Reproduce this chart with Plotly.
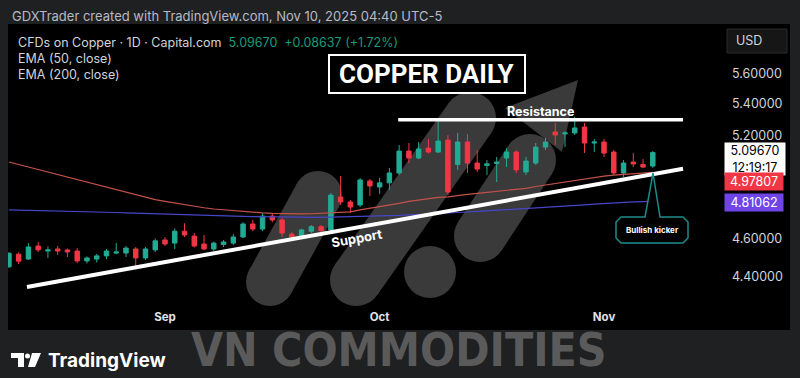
import numpy as np
import pandas as pd
import plotly.graph_objects as go

# ---------------- data ----------------
dates = [d.strftime("%Y-%m-%d") for d in pd.bdate_range("2025-08-08", "2025-11-10")]

opens = [4.451, 4.518, 4.492, 4.562, 4.535, 4.546, 4.541, 4.535, 4.482, 4.492,
         4.509, 4.524, 4.524, 4.546, 4.498, 4.541, 4.595, 4.578, 4.643, 4.616,
         4.573, 4.546, 4.570, 4.578, 4.611, 4.683, 4.655, 4.727, 4.705, 4.627,
         4.611, 4.643, 4.668, 4.650, 4.835, 4.807, 4.790, 4.928, 4.893, 4.917,
         4.975, 5.106, 5.064, 5.124, 5.100, 5.173, 5.026, 5.161, 5.034, 5.020,
         5.031, 5.064, 5.100, 4.981, 5.034, 5.130, 5.223, 5.211, 5.217, 5.254,
         5.155, 5.161, 5.100, 4.975, 5.040, 5.025, 5.016]
highs = [4.528, 4.528, 4.578, 4.584, 4.560, 4.562, 4.549, 4.551, 4.506, 4.519,
         4.546, 4.578, 4.562, 4.557, 4.557, 4.603, 4.611, 4.659, 4.687, 4.633,
         4.622, 4.586, 4.595, 4.627, 4.693, 4.705, 4.745, 4.739, 4.716, 4.638,
         4.657, 4.677, 4.677, 4.858, 4.957, 4.818, 4.945, 4.940, 4.946, 5.005,
         5.143, 5.155, 5.161, 5.180, 5.286, 5.204, 5.217, 5.211, 5.112, 5.052,
         5.070, 5.124, 5.112, 5.070, 5.155, 5.186, 5.279, 5.226, 5.318, 5.279,
         5.180, 5.180, 5.112, 5.052, 5.094, 5.058, 5.106]
lows = [4.446, 4.465, 4.487, 4.530, 4.498, 4.514, 4.503, 4.471, 4.469, 4.474,
        4.492, 4.519, 4.503, 4.455, 4.487, 4.530, 4.562, 4.546, 4.611, 4.554,
        4.541, 4.535, 4.557, 4.567, 4.605, 4.643, 4.643, 4.693, 4.611, 4.598,
        4.605, 4.633, 4.638, 4.641, 4.790, 4.744, 4.778, 4.841, 4.853, 4.876,
        4.963, 5.034, 5.058, 5.091, 5.094, 4.847, 4.993, 4.975, 4.980, 4.964,
        4.922, 5.010, 4.975, 4.963, 5.022, 5.112, 5.143, 5.130, 5.204, 5.094,
        5.100, 5.070, 4.963, 4.952, 5.010, 5.004, 5.005]
closes = [4.523, 4.481, 4.557, 4.541, 4.541, 4.535, 4.530, 4.482, 4.498, 4.509,
          4.535, 4.530, 4.551, 4.498, 4.546, 4.590, 4.573, 4.643, 4.622, 4.562,
          4.546, 4.578, 4.584, 4.611, 4.683, 4.655, 4.727, 4.705, 4.633, 4.611,
          4.650, 4.668, 4.646, 4.846, 4.807, 4.778, 4.934, 4.899, 4.917, 4.975,
          5.106, 5.064, 5.118, 5.100, 5.167, 4.864, 5.161, 5.034, 4.998, 5.029,
          5.040, 5.100, 4.993, 5.046, 5.130, 5.161, 5.204, 5.217, 5.248, 5.155,
          5.161, 5.094, 4.975, 5.034, 5.028, 5.010, 5.0967]

ema50 = [5.040, 5.025, 5.010, 4.995, 4.980, 4.964, 4.950, 4.935, 4.920, 4.906,
         4.891, 4.876, 4.862, 4.848, 4.834, 4.820, 4.810, 4.800, 4.790, 4.781,
         4.774, 4.767, 4.762, 4.756, 4.751, 4.748, 4.745, 4.742, 4.740, 4.739,
         4.739, 4.740, 4.742, 4.745, 4.748, 4.751, 4.762, 4.771, 4.779, 4.787,
         4.799, 4.810, 4.819, 4.826, 4.833, 4.836, 4.845, 4.850, 4.856, 4.862,
         4.867, 4.873, 4.879, 4.885, 4.896, 4.905, 4.914, 4.923, 4.932, 4.940,
         4.949, 4.956, 4.962, 4.967, 4.971, 4.975, 4.978]
ema200 = [4.762, 4.761, 4.760, 4.759, 4.758, 4.756, 4.755, 4.753, 4.752, 4.750,
          4.749, 4.747, 4.745, 4.743, 4.742, 4.740, 4.738, 4.736, 4.735, 4.733,
          4.731, 4.729, 4.728, 4.726, 4.725, 4.724, 4.723, 4.722, 4.721, 4.721,
          4.720, 4.720, 4.720, 4.721, 4.722, 4.723, 4.724, 4.725, 4.727, 4.729,
          4.731, 4.734, 4.736, 4.739, 4.742, 4.745, 4.748, 4.750, 4.753, 4.756,
          4.759, 4.762, 4.766, 4.769, 4.772, 4.776, 4.779, 4.783, 4.786, 4.790,
          4.794, 4.798, 4.802, 4.805, 4.807, 4.809, 4.811]

month_tick_dates = ["2025-09-01", "2025-10-01", "2025-11-03"]
month_labels = ["Sep", "Oct", "Nov"]
price_ticks = [4.4, 4.6, 5.2, 5.4, 5.6]

resistance_level = 5.30
resistance_span = [39.9, 69.1]          # bar positions
support_x = [1.85, 69.1]                # bar positions
support_y = [4.346, 5.0]

last_price = 5.09670
last_change = 0.08637
last_pct = 1.72
ema50_last = 4.97807
ema200_last = 4.81062
countdown = "12:19:17"

# ---------------- geometry helpers ----------------
W, H = 800, 378
PL, PR, PT, PB = 8, 725, 25, 308


def px(x):
    return (x - PL) / (PR - PL)


def py(y):
    return (PB - y) / (PB - PT)


def path_of(points):
    return "M " + " L ".join(f"{px(x):.5f},{py(y):.5f}" for x, y in points) + " Z"


idx = np.arange(len(dates))
tick_pos = [dates.index(d) for d in month_tick_dates]

GREEN = "#22ab94"
RED = "#f23645"
FONT = "Inter, Roboto, sans-serif"

fig = go.Figure()

fig.add_trace(go.Candlestick(
    x=idx, open=opens, high=highs, low=lows, close=closes,
    increasing=dict(line=dict(color=GREEN, width=1), fillcolor=GREEN),
    decreasing=dict(line=dict(color=RED, width=1), fillcolor=RED),
    whiskerwidth=0, showlegend=False, hoverinfo="skip"))

fig.add_trace(go.Scatter(x=idx, y=ema50, mode="lines",
                         line=dict(color="#c4524a", width=1.2), hoverinfo="skip", showlegend=False))
fig.add_trace(go.Scatter(x=idx, y=ema200, mode="lines",
                         line=dict(color="#4646c8", width=1.2), hoverinfo="skip", showlegend=False))

fig.add_trace(go.Scatter(x=resistance_span, y=[resistance_level] * 2, mode="lines",
                         line=dict(color="white", width=3.5), hoverinfo="skip", showlegend=False))
fig.add_trace(go.Scatter(x=support_x, y=support_y, mode="lines",
                         line=dict(color="white", width=4), hoverinfo="skip", showlegend=False))

shapes = []
# black chart panel
shapes.append(dict(type="rect", xref="paper", yref="paper", layer="below",
                   x0=px(8), x1=px(790), y0=py(330), y1=py(24),
                   fillcolor="black", line=dict(width=0)))

# grey logo watermark inside chart
LOGO = "#3a3a3a"


def pill(x0, y0, x1, y1, w):
    dx, dy = x1 - x0, y1 - y0
    n = (dx * dx + dy * dy) ** 0.5
    nx, ny = -dy / n * w / 2, dx / n * w / 2
    pts = [(x0 + nx, y0 + ny), (x1 + nx, y1 + ny), (x1 - nx, y1 - ny), (x0 - nx, y0 - ny)]
    out = [dict(type="path", xref="paper", yref="paper", layer="below",
                path=path_of(pts), fillcolor=LOGO, line=dict(width=0))]
    for cx, cy in [(x0, y0), (x1, y1)]:
        r = w / 2
        out.append(dict(type="circle", xref="paper", yref="paper", layer="below",
                        x0=px(cx - r), x1=px(cx + r), y0=py(cy + r), y1=py(cy - r),
                        fillcolor=LOGO, line=dict(width=0)))
    return out


shapes += pill(270, 282, 318, 195, 48)
shapes += pill(356, 280, 470, 118, 52)
shapes += pill(480, 236, 530, 160, 52)
shapes.append(dict(type="circle", xref="paper", yref="paper", layer="below",
                   x0=px(404), x1=px(456), y0=py(298), y1=py(246),
                   fillcolor=LOGO, line=dict(width=0)))
shapes.append(dict(type="path", xref="paper", yref="paper", layer="below",
                   path=path_of([(505, 108), (578, 80), (562, 152)]),
                   fillcolor=LOGO, line=dict(width=0)))

# title box
shapes.append(dict(type="rect", xref="paper", yref="paper",
                   x0=px(329), x1=px(525), y0=py(93), y1=py(55),
                   fillcolor="black", line=dict(color="white", width=2)))

# bullish kicker callout
callout = [(645, 217), (653, 173), (660, 217), (683, 217), (688, 222), (688, 238),
           (683, 243), (621, 243), (616, 238), (616, 222), (621, 217)]
shapes.append(dict(type="path", xref="paper", yref="paper", path=path_of(callout),
                   fillcolor="black", line=dict(color="#1f8a8a", width=1.5)))

# USD box
shapes.append(dict(type="rect", xref="paper", yref="paper",
                   x0=px(727), x1=px(787), y0=py(53), y1=py(29),
                   fillcolor="#161616", line=dict(color="#2a2a2a", width=1)))

# TradingView logo glyph
shapes.append(dict(type="path", xref="paper", yref="paper",
                   path=path_of([(11, 353), (24, 353), (24, 367), (18, 367), (18, 358), (11, 358)]),
                   fillcolor="white", line=dict(width=0)))
shapes.append(dict(type="circle", xref="paper", yref="paper",
                   x0=px(25), x1=px(30), y0=py(358.5), y1=py(353.5),
                   fillcolor="white", line=dict(width=0)))
shapes.append(dict(type="path", xref="paper", yref="paper",
                   path=path_of([(32, 353), (41, 353), (35, 367), (28, 367)]),
                   fillcolor="white", line=dict(width=0)))

ann = []


def text(x, y, s, size, color, xanchor="left", bold=False, family=FONT, **kw):
    ann.append(dict(xref="paper", yref="paper", x=px(x), y=py(y), text=s, showarrow=False,
                    xanchor=xanchor, yanchor="middle",
                    font=dict(size=size, color=color, family=family,
                              weight="bold" if bold else "normal"), **kw))


text(10, 16, "GDXTrader created with TradingView.com, Nov 10, 2025 04:40 UTC-5", 13, "#b8bbc2")
text(16, 42, "CFDs on Copper · 1D · Capital.com  "
     f"<span style='color:#1b9a7c'>{last_price:.5f}  +{last_change:.5f} (+{last_pct:.2f}%)</span>",
     12.5, "#d1d4dc")
text(16, 58, "EMA (50, close)", 12.5, "#d1d4dc")
text(16, 74, "EMA (200, close)", 12.5, "#d1d4dc")
text(734, 41, "USD", 12.5, "#d1d4dc")

text(427, 74, "COPPER DAILY", 26, "white", xanchor="center", bold=True, family="Roboto, sans-serif")
text(540, 112, "Resistance", 12.5, "white", xanchor="center", bold=True)
text(357, 238, "Support", 13, "white", xanchor="center", bold=True, textangle=-10)
text(652, 230, "Bullish kicker", 8, "white", xanchor="center", bold=True)

# price scale labels
ann.append(dict(xref="paper", yref="paper", x=px(755), y=py(159),
                text=f"{last_price:.5f}<br>{countdown}", showarrow=False,
                xanchor="center", yanchor="middle", bgcolor="white", width=58, height=30,
                font=dict(size=12.5, color="black", family=FONT)))
ann.append(dict(xref="paper", yref="paper", x=px(754), y=py(182),
                text=f"{ema50_last:.5f}", showarrow=False,
                xanchor="center", yanchor="middle", bgcolor=RED, width=56, height=15,
                font=dict(size=12.5, color="white", family=FONT)))
ann.append(dict(xref="paper", yref="paper", x=px(754), y=py(202),
                text=f"{ema200_last:.5f}", showarrow=False,
                xanchor="center", yanchor="middle", bgcolor="#6f45e8", width=56, height=15,
                font=dict(size=12.5, color="white", family=FONT)))

text(399, 350, "VN COMMODITIES", 46, "#5a5a5a", xanchor="center", bold=True,
     family="DejaVu Sans Condensed, Liberation Sans Narrow, sans-serif")
text(46, 360, "TradingView", 19, "white", bold=True)

fig.update_layout(
    width=W, height=H,
    margin=dict(l=PL, r=W - PR, t=PT, b=H - PB),
    paper_bgcolor="#1f2022", plot_bgcolor="rgba(0,0,0,0)",
    showlegend=False, shapes=shapes, annotations=ann,
    boxgap=0.35,
    xaxis=dict(range=[-0.093, 73.40], tickmode="array", tickvals=tick_pos, ticktext=month_labels,
               showgrid=False, zeroline=False, showline=False, ticks="",
               tickfont=dict(size=11.5, color="#e0e3eb", family=FONT, weight="bold"),
               rangeslider=dict(visible=False), fixedrange=True),
    yaxis=dict(type="log", side="right", range=[0.62723, 0.77303], tickmode="array",
               tickvals=price_ticks, ticktext=[f"{v:.5f}" for v in price_ticks],
               showgrid=False, zeroline=False, showline=False, ticks="",
               ticklabelstandoff=6,
               tickfont=dict(size=12.5, color="#d1d4dc", family=FONT)),
)

fig.write_html("out.html")
